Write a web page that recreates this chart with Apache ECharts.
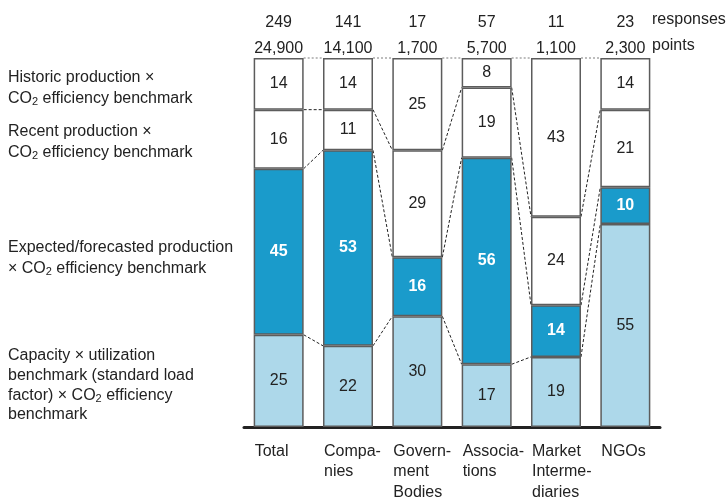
<!DOCTYPE html>
<html>
<head>
<meta charset="utf-8">
<script src="https://cdn.jsdelivr.net/npm/echarts@6/dist/echarts.min.js"></script>
<style>html,body{margin:0;padding:0;background:#fff}#c{width:728px;height:498px}</style>
</head>
<body>
<div id="c"></div>
<script>
const categories = ['Total', 'Compa-\nnies', 'Govern-\nment\nBodies', 'Associa-\ntions', 'Market\nInterme-\ndiaries', 'NGOs'];
const responses = ['249', '141', '17', '57', '11', '23'];
const points = ['24,900', '14,100', '1,700', '5,700', '1,100', '2,300'];
const capacity = [25, 22, 30, 17, 19, 55];
const expected = [45, 53, 16, 56, 14, 10];
const recent = [16, 11, 29, 19, 24, 21];
const historic = [14, 14, 25, 8, 43, 14];
const seriesNames = [
  'Capacity × utilization benchmark (standard load factor) × CO2 efficiency benchmark',
  'Expected/forecasted production × CO2 efficiency benchmark',
  'Recent production × CO2 efficiency benchmark',
  'Historic production × CO2 efficiency benchmark'
];

const FONT = "'Liberation Sans', Arial, Helvetica, sans-serif";
const stacks = [capacity, expected, recent, historic];
const cum = categories.map((_, i) => {
  const arr = [0];
  let s = 0;
  stacks.forEach(v => { s += v[i]; arr.push(s); });
  return arr;
});
const HALF = 25;

const chart = echarts.init(document.getElementById('c'), null, {renderer: 'canvas'});

function barSeries(name, data, color, labelColor, bold) {
  return {
    name: name, type: 'bar', stack: 'all', barWidth: 50, xAxisIndex: 0,
    data: data,
    itemStyle: {color: color, borderColor: '#5c5c5c', borderWidth: 1.5},
    label: {show: true, position: 'inside', color: labelColor, fontSize: 16,
      fontFamily: FONT, fontWeight: bold ? 'bold' : 'normal'},
    emphasis: {disabled: true}
  };
}

const sub = {fontSize: 11, fontFamily: FONT, fill: '#222', padding: [7, 0, 0, 0]};
function leftText(y, text, lh) {
  return {type: 'text', left: 8, top: y, silent: true,
    style: {text: text, fontSize: 16, fontFamily: FONT, fill: '#222', lineHeight: lh,
      rich: {s: Object.assign({lineHeight: lh}, sub), n: {fontSize: 16, fontFamily: FONT, fill: '#222', lineHeight: lh}}}};
}

const option = {
  animation: false,
  backgroundColor: '#fff',
  grid: {left: 244, right: 68, top: 58, bottom: 71, containLabel: false},
  xAxis: [
    {type: 'category', data: categories, position: 'bottom',
      axisLine: {show: true, lineStyle: {color: '#222', width: 3}},
      axisTick: {show: false}, axisLabel: {show: false}, splitLine: {show: false}},
    {type: 'category', data: points, position: 'top', offset: 0,
      axisLine: {show: false}, axisTick: {show: false},
      axisLabel: {show: true, margin: 1.5, fontSize: 16, fontFamily: FONT, color: '#222'}},
    {type: 'category', data: responses, position: 'top', offset: 26,
      axisLine: {show: false}, axisTick: {show: false},
      axisLabel: {show: true, margin: 1.5, fontSize: 16, fontFamily: FONT, color: '#222'}}
  ],
  yAxis: {type: 'value', min: 0, max: 100, show: false},
  series: [
    barSeries(seriesNames[0], capacity, '#add8ea', '#222', false),
    barSeries(seriesNames[1], expected, '#1a9bcb', '#fff', true),
    barSeries(seriesNames[2], recent, '#ffffff', '#222', false),
    barSeries(seriesNames[3], historic, '#ffffff', '#222', false),
    {
      type: 'custom', silent: true, xAxisIndex: 0, z: 1,
      data: [[0, 0], [1, 0], [2, 0], [3, 0], [4, 0]],
      renderItem: function (params, api) {
        const i = api.value(0);
        const children = [];
        for (let k = 1; k <= 4; k++) {
          const p1 = api.coord([i, cum[i][k]]);
          const p2 = api.coord([i + 1, cum[i + 1][k]]);
          const top = k === 4;
          children.push({type: 'line',
            shape: {x1: p1[0] + HALF, y1: p1[1], x2: p2[0] - HALF, y2: p2[1]},
            style: {stroke: top ? '#a8a8a8' : '#222', lineWidth: top ? 1.5 : 1,
              lineDash: top ? [2, 2] : [3, 2]}});
        }
        return {type: 'group', children: children};
      }
    },
    {
      type: 'custom', silent: true, xAxisIndex: 0, clip: false,
      data: categories.map((_, i) => [i, 0]),
      renderItem: function (params, api) {
        const i = api.value(0);
        const p = api.coord([i, 0]);
        return {type: 'text', x: p[0] - HALF + 1, y: p[1] + 14,
          style: {text: categories[i], fontSize: 16, fontFamily: FONT, fill: '#222',
            align: 'left', verticalAlign: 'top', lineHeight: 20.5}};
      }
    }
  ],
  graphic: [
    {type: 'text', left: 652, top: 12, silent: true,
      style: {text: 'responses', fontSize: 16, fontFamily: FONT, fill: '#222'}},
    {type: 'text', left: 652, top: 38, silent: true,
      style: {text: 'points', fontSize: 16, fontFamily: FONT, fill: '#222'}},
    leftText(67, '{n|Historic production ×}\n{n|CO}{s|2}{n| efficiency benchmark}', 21),
    leftText(121, '{n|Recent production ×}\n{n|CO}{s|2}{n| efficiency benchmark}', 21),
    leftText(237, '{n|Expected/forecasted production}\n{n|× CO}{s|2}{n| efficiency benchmark}', 21),
    leftText(346, '{n|Capacity × utilization}\n{n|benchmark (standard load}\n{n|factor) × CO}{s|2}{n| efficiency}\n{n|benchmark}', 19.7)
  ]
};
chart.setOption(option);
</script>
</body>
</html>
